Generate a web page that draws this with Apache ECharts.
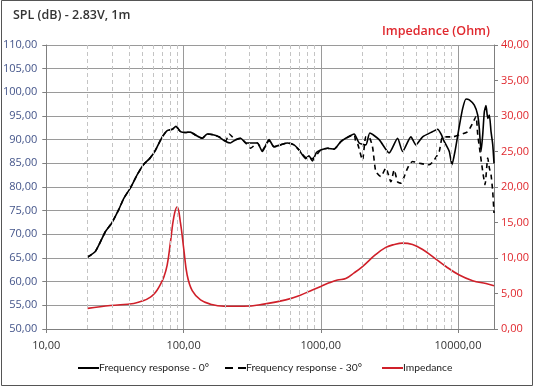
<!DOCTYPE html>
<html><head><meta charset="utf-8">
<script src="https://cdn.jsdelivr.net/npm/echarts@6/dist/echarts.min.js"></script>
<style>html,body{margin:0;padding:0;background:#fff}#c{width:535px;height:389px}</style>
</head><body><div id="c"></div>
<script>
// Frequency response 0°
var freq0 = [20,22.8,27,30,33.7,36.7,41,46,51,57,62.5,70,76,83,88,95,103,112,122,137,149,167,181,203,220,240,261,284,308,345,375,420,456,511,571,639,695,777,820,869,930,1000,1120,1250,1400,1521,1750,1904,2130,2279,2665,3151,3629,3947,4539,4937,5525,6537,7110,7516,7946,8640,9035,9550,10220,10820,11430,12090,13150,13930,14300,14720,15140,15560,16000,16480,16930,17410,17910,18300];
var spl0 = [65.2,66.4,70.6,72.4,75.2,77.6,79.8,82.6,84.7,86.1,87.8,90.6,91.9,92.2,92.8,91.7,91.5,91.6,91.0,90.3,91.2,91.0,90.6,89.6,89.3,90.0,90.3,89.3,89.3,89.3,87.5,90.0,88.5,88.9,89.3,88.9,87.8,86.0,86.6,85.5,87.3,87.8,88.2,88.0,89.6,90.3,91.2,89.3,88.9,91.4,90.0,87.2,90.3,87.5,90.6,88.9,90.6,91.7,92.2,91.2,89.6,87.5,84.7,87.8,92.8,96.6,98.6,98.4,97.3,95.2,92.4,87.5,91.0,95.9,97.2,94.5,95.2,91.7,89.0,85.0];
// Frequency response 30°
var freq30 = [20,22.8,27,30,33.7,36.7,41,46,51,57,62.5,70,76,83,88,95,103,112,122,137,149,167,181,203,215,240,261,284,308,345,375,420,456,511,571,639,695,777,869,1000,1120,1250,1400,1521,1750,1799,1862,2014,2130,2239,2383,2518,2738,2980,3243,3428,3629,3837,4057,4295,4665,5220,6171,6710,7298,7727,8408,9145,10220,11770,12800,13530,13930,14310,15140,15740,16480,16930,17410,17910,18300];
var spl30 = [65.2,66.4,70.6,72.4,75.2,77.6,79.8,82.6,84.7,86.1,87.8,90.6,91.9,92.2,92.8,91.7,91.5,91.6,91.0,90.3,91.2,91.0,90.6,89.8,91.2,90.0,90.3,89.3,88.2,89.3,87.8,89.8,88.5,88.9,89.3,88.9,87.8,86.2,86.0,87.8,88.2,88.0,89.6,90.3,91.0,89.5,89.0,85.7,90.6,90.6,88.5,83.3,82.2,84.0,81.1,83.6,81.1,80.8,82.2,84.0,85.4,85.0,84.7,85.7,87.5,90.6,90.6,90.6,91.0,91.7,93.5,94.9,91.0,88.5,83.3,80.5,86.1,84.0,82.6,79.0,74.5];
// Impedance (Ohm)
var freqZ = [20,29.3,43.4,51.3,57.4,60.7,64.3,67.9,71.8,76,80.4,85,89.9,95.1,100.5,106.3,115.7,133,157,197,275,385,556,695,869,1000,1150,1324,1521,1750,2014,2518,2980,3428,3945,4665,5525,6537,8170,10220,12790,16000,18300];
var imp = [2.9,3.3,3.6,4.0,4.5,4.9,5.5,6.3,7.3,9.0,12.3,15.8,17.2,14.9,11.2,7.6,5.4,4.1,3.5,3.2,3.2,3.5,4.1,4.7,5.5,6.0,6.5,6.9,7.1,7.9,8.8,10.5,11.5,11.9,12.1,11.9,11.2,10.2,8.8,7.6,6.8,6.4,6.1];
// axes
var xDecades = [10,100,1000,10000];
var xMinor = [20,30,40,50,60,70,80,90,200,300,400,500,600,700,800,900,2000,3000,4000,5000,6000,7000,8000,9000];
var legendNames = ['Frequency response - 0°','Frequency response - 30°','Impedance'];

function zip(a,b){return a.map(function(v,i){return [v,b[i]];});}
function fmt(v){return v.toFixed(2).replace('.',',');}
var FONT = 'Open Sans';
var LFONT = 'Lato';

function leg(name, left, icon){
  return {left:left,top:358,itemWidth:21,itemHeight:2,itemGap:0,icon:icon,
    textStyle:{fontFamily:LFONT,fontSize:10.3,color:'#222',padding:[0,0,0,-5]},
    data:[{name:name,icon:icon}]};
}

var chart = echarts.init(document.getElementById('c'));
chart.setOption({
  animation:false,
  textStyle:{fontFamily:FONT},
  grid:{left:46,right:41,top:45,bottom:60,containLabel:false},
  graphic:[
    {type:'rect',shape:{x:1.5,y:0.5,width:531,height:385},style:{fill:'none',stroke:'#555',lineWidth:1},silent:true},
    {type:'text',left:13,top:9,style:{text:'SPL (dB) - 2.83V, 1m',fontFamily:FONT,fontSize:12.5,fontWeight:600,fill:'#333'}},
    {type:'text',right:45,top:25,style:{text:'Impedance (Ohm)',fontFamily:FONT,fontSize:12.5,fontWeight:600,fill:'#e0282e'}}
  ],
  legend:[
    leg(legendNames[0],73,'rect'),
    leg(legendNames[1],220,'path://M0,0H8V2H0Z M13,0H21V2H13Z'),
    leg(legendNames[2],377,'rect')
  ],
  xAxis:{
    type:'log',logBase:10,min:10,max:18300,
    axisLine:{show:true,lineStyle:{color:'#7f7f7f',width:1}},
    axisTick:{show:true,length:4,lineStyle:{color:'#7f7f7f'}},
    axisLabel:{fontFamily:FONT,fontSize:11,color:'#333',margin:11,showMaxLabel:false,
      formatter:function(v){return xDecades.indexOf(Math.round(v))>=0?fmt(Math.round(v)):'';}},
    splitLine:{show:true,lineStyle:{color:'#9a9a9a',width:1}},
    minorTick:{show:false},minorSplitLine:{show:false}
  },
  yAxis:[
    {type:'value',min:50,max:110,interval:5,position:'left',
      axisLine:{show:true,lineStyle:{color:'#7f7f7f'}},
      axisTick:{show:true,length:4,lineStyle:{color:'#7f7f7f'}},
      axisLabel:{fontFamily:FONT,fontSize:11,color:'#44558a',margin:9,formatter:fmt},
      splitLine:{show:true,lineStyle:{color:'#9a9a9a',width:1}}},
    {type:'value',min:0,max:40,interval:5,position:'right',
      axisLine:{show:true,lineStyle:{color:'#7f7f7f'}},
      axisTick:{show:true,length:4,lineStyle:{color:'#7f7f7f'}},
      axisLabel:{fontFamily:FONT,fontSize:11,color:'#e0282e',margin:7,formatter:fmt},
      splitLine:{show:false}}
  ],
  series:[
    {name:'minor',type:'line',data:[],xAxisIndex:0,yAxisIndex:0,z:1,silent:true,
      markLine:{silent:true,symbol:['none','none'],label:{show:false},animation:false,
        lineStyle:{type:[4,3],color:'#c4c4c4',width:1},
        data:xMinor.map(function(f){return {xAxis:f};})}},
    {name:legendNames[0],type:'line',yAxisIndex:0,data:zip(freq0,spl0),symbol:'none',smooth:0.2,z:4,
      lineStyle:{color:'#000',width:1.6},itemStyle:{color:'#000'}},
    {name:legendNames[1],type:'line',yAxisIndex:0,data:zip(freq30,spl30),symbol:'none',smooth:0.2,z:3,
      lineStyle:{color:'#000',width:1.6,type:[5,4]},itemStyle:{color:'#000'}},
    {name:legendNames[2],type:'line',yAxisIndex:1,data:zip(freqZ,imp),symbol:'none',smooth:0.4,z:3,
      lineStyle:{color:'#d0202a',width:1.6},itemStyle:{color:'#d0202a'}}
  ]
});
</script></body></html>
